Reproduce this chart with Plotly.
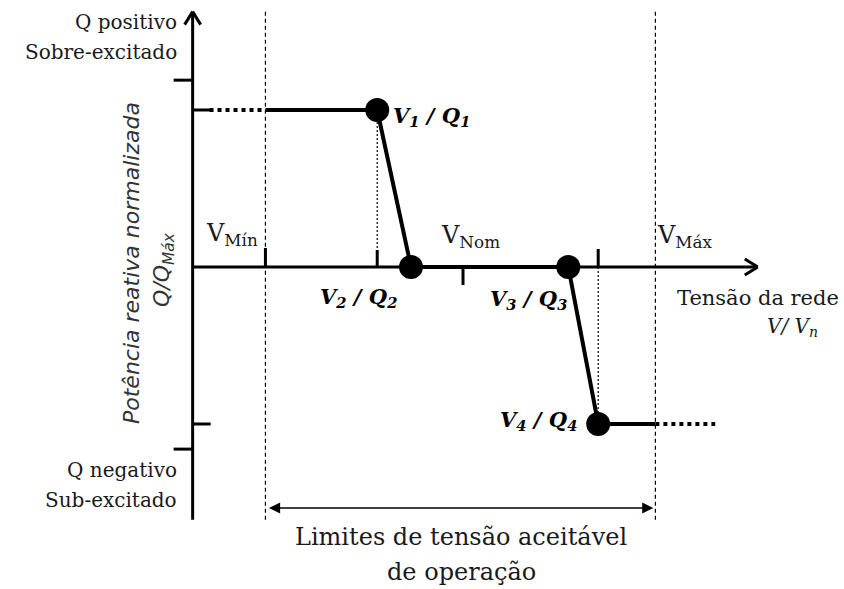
import plotly.graph_objects as go

# ---- data (conceptual units: V in p.u., Q normalised) ----
V_points = [0.934, 0.960, 1.081, 1.104]
Q_points = [1.0, 0.0, 0.0, -1.0]
point_labels = ["V<sub>1</sub> / Q<sub>1</sub>", "V<sub>2</sub> / Q<sub>2</sub>",
                "V<sub>3</sub> / Q<sub>3</sub>", "V<sub>4</sub> / Q<sub>4</sub>"]
V_min, V_nom, V_max = 0.848, 1.0, 1.148
V_origin = 0.792
V_axis_end = 1.226
V_dotted_left = 0.805
V_dotted_right = 1.194
Q_top_tick, Q_bot_tick = 1.19, -1.16
Q_axis_top, Q_axis_bot = 1.62, -1.61
Q_limits_arrow = -1.535

W, H = 844, 589
X_RANGE = [0.6438, 1.2931]
Y_RANGE = [-2.051, 1.7006]

def dv(px):
    return px / W * (X_RANGE[1] - X_RANGE[0])

def dq(px):
    return px / H * (Y_RANGE[1] - Y_RANGE[0])

def PX(px):
    return X_RANGE[0] + dv(px)

def PY(py):
    return Y_RANGE[1] - dq(py)

fig = go.Figure()
BLACK = "#000000"

def line(x0, y0, x1, y1, width=3, dash="solid"):
    fig.add_shape(type="line", x0=x0, y0=y0, x1=x1, y1=y1, xref="x", yref="y",
                  line=dict(color=BLACK, width=width, dash=dash))

# axes
line(V_origin, Q_axis_bot, V_origin, Q_axis_top, 3)
line(V_origin, 0, V_axis_end, 0, 3)
# chevrons (open arrowheads)
line(V_origin - dv(8), Q_axis_top - dq(12), V_origin, Q_axis_top + dq(1), 3)
line(V_origin + dv(8), Q_axis_top - dq(12), V_origin, Q_axis_top + dq(1), 3)
line(V_axis_end - dv(12), dq(8), V_axis_end + dv(1), 0, 3)
line(V_axis_end - dv(12), -dq(8), V_axis_end + dv(1), 0, 3)

# vertical axis ticks
line(V_origin - dv(19), Q_top_tick, V_origin, Q_top_tick, 3)
line(V_origin, Q_points[0], V_origin + dv(18), Q_points[0], 3)
line(V_origin, Q_points[3], V_origin + dv(18), Q_points[3], 3)
line(V_origin - dv(19), Q_bot_tick, V_origin, Q_bot_tick, 3)

# horizontal axis ticks
line(V_min, 0, V_min, dq(19), 3)
line(V_points[0], 0, V_points[0], dq(17), 3)
line(V_nom, 0, V_nom, -dq(18), 3)
line(V_points[3], 0, V_points[3], dq(18), 3)

# dashed limits
for v in (V_min, V_max):
    line(v, Q_axis_bot, v, Q_axis_top + dq(3), 1.2, "4px,3px")

# dotted guides
line(V_points[0], Q_points[0], V_points[0], dq(17), 1.2, "2px,2px")
line(V_points[3], 0, V_points[3], Q_points[3], 1.2, "2px,2px")

# characteristic curve
fig.add_trace(go.Scatter(x=[V_min] + V_points + [V_max],
                         y=[Q_points[0]] + Q_points + [Q_points[3]],
                         mode="lines", line=dict(color=BLACK, width=4),
                         hoverinfo="skip", showlegend=False))
fig.add_trace(go.Scatter(x=[V_dotted_left, V_min], y=[Q_points[0]] * 2, mode="lines",
                         line=dict(color=BLACK, width=4, dash="4px,4px"),
                         hoverinfo="skip", showlegend=False))
fig.add_trace(go.Scatter(x=[V_max, V_dotted_right], y=[Q_points[3]] * 2, mode="lines",
                         line=dict(color=BLACK, width=4, dash="4px,4px"),
                         hoverinfo="skip", showlegend=False))
fig.add_trace(go.Scatter(x=V_points, y=Q_points, mode="markers",
                         marker=dict(color=BLACK, size=24),
                         hoverinfo="skip", showlegend=False))

# double arrow for limits
fig.add_annotation(x=V_max - dv(2), y=Q_limits_arrow, ax=V_min + dv(2), ay=Q_limits_arrow,
                   xref="x", yref="y", axref="x", ayref="y", text="",
                   showarrow=True, arrowhead=2, startarrowhead=2, arrowside="end+start",
                   arrowsize=1.4, startarrowsize=1.4, arrowwidth=1.6, arrowcolor=BLACK)

SERIF = "DejaVu Serif"
def txt(px, py, s, size=19, xanchor="center", family=SERIF, angle=0, color="#1a1a1a"):
    fig.add_annotation(x=PX(px), y=PY(py), xref="x", yref="y", text=s, showarrow=False,
                       xanchor=xanchor, yanchor="middle", textangle=angle,
                       font=dict(family=family, size=size, color=color))

txt(179, 22, "Q positivo", 20, "right")
txt(179, 52, "Sobre-excitado", 20, "right")
txt(179, 470, "Q negativo", 20, "right")
txt(179, 500, "Sub-excitado", 20, "right")

txt(204, 234, "V<sub>Mín</sub>", 24, "left")
txt(439, 236, "V<sub>Nom</sub>", 24, "left")
txt(655, 236, "V<sub>Máx</sub>", 24, "left")

txt(841, 298, "Tensão da rede", 21, "right")
txt(820, 327, "<i>V/ V<sub>n</sub></i>", 20, "right")

txt(391, 116, "<b><i>" + point_labels[0] + "</i></b>", 21, "left", color="#000000")
txt(399, 297, "<b><i>" + point_labels[1] + "</i></b>", 21, "right", color="#000000")
txt(569, 299, "<b><i>" + point_labels[2] + "</i></b>", 21, "right", color="#000000")
txt(579, 420, "<b><i>" + point_labels[3] + "</i></b>", 21, "right", color="#000000")

txt(461, 537, "Limites de tensão aceitável", 24)
txt(461, 572, "de operação", 24)

txt(131, 263, "<i>Potência reativa normalizada</i>", 22, family="DejaVu Sans", angle=-90,
    color="#333333")
txt(163, 270, "<i>Q/Q<sub>Máx</sub></i>", 22, family="DejaVu Sans", angle=-90,
    color="#333333")

fig.update_xaxes(range=X_RANGE, visible=False, fixedrange=True)
fig.update_yaxes(range=Y_RANGE, visible=False, fixedrange=True)
fig.update_layout(width=W, height=H, margin=dict(l=0, r=0, t=0, b=0),
                  paper_bgcolor="white", plot_bgcolor="white", showlegend=False)

fig.write_html("out.html", config={"displayModeBar": False},
               post_script="document.body.style.margin='0';document.body.style.overflow='hidden';")
